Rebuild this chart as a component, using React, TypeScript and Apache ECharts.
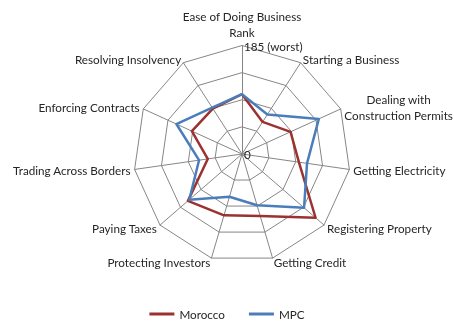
import React, { useEffect, useRef } from 'react';
import * as echarts from 'echarts';

const indicatorNames = [
  'Ease of Doing Business\nRank',
  'Starting a Business',
  'Dealing with\nConstruction Permits',
  'Getting Electricity',
  'Registering Property',
  'Getting Credit',
  'Protecting Investors',
  'Paying Taxes',
  'Trading Across Borders',
  'Enforcing Contracts',
  'Resolving Insolvency',
];
const morocco = [102, 65, 91, 98, 166, 110, 109, 122, 59, 94, 92];
const mpc = [102, 80, 144, 112, 140, 91, 76, 119, 74, 123, 94];
const seriesNames = ['Morocco', 'MPC'];
const maxRank = 185;
const maxLabel = '185 (worst)';
const minLabel = '0';

// Excel draws radar axes clockwise; ECharts goes counter-clockwise, so reorder.
const order = indicatorNames.map((_, i) => (i === 0 ? 0 : indicatorNames.length - i));
const reorder = (arr: number[]) => order.map((i) => arr[i]);

export default function App() {
  const ref = useRef<HTMLDivElement>(null);
  useEffect(() => {
    const chart = echarts.init(ref.current!, null, { renderer: 'svg' });
    const font = 'Lato, "Open Sans", sans-serif';
    const fs = 11.7;
    const indicator = order.map((i, k) => {
      const base: any = { name: indicatorNames[i], min: 0, max: maxRank };
      if (k === 0) {
        base.nameGap = 6;
        base.axisLabel = {
          show: true,
          showMinLabel: true,
          showMaxLabel: true,
          hideOverlap: false,
          margin: -2,
          align: 'left',
          color: '#262626',
          fontFamily: font,
          fontSize: fs,
          formatter: (v: number) => (v === maxRank ? maxLabel : v === 0 ? minLabel : ''),
        };
      }
      return base;
    });
    chart.setOption({
      animation: false,
      color: ['#9b3230', '#4a7ebb'],
      legend: {
        data: seriesNames,
        top: 303,
        left: 'center',
        icon: 'rect',
        itemWidth: 25,
        itemHeight: 3,
        itemGap: 24,
        textStyle: { color: '#262626', fontFamily: font, fontSize: fs },
      },
      radar: {
        center: [242, 154],
        radius: 108.5,
        splitNumber: 4,
        shape: 'polygon',
        nameGap: 4,
        indicator,
        axisName: {
          color: '#262626',
          fontFamily: font,
          fontSize: fs,
          formatter: (name: string) =>
            name
              .split('\n')
              .map((l) => '{c|' + l + '}')
              .join('\n'),
          rich: { c: { align: 'center', fontFamily: font, fontSize: fs, color: '#262626', lineHeight: 16 } },
        },
        axisLine: { lineStyle: { color: '#868686', width: 1 } },
        splitLine: { lineStyle: { color: '#868686', width: 1 } },
        splitArea: { show: false },
        axisTick: { show: false },
      },
      series: [
        {
          type: 'radar',
          symbol: 'none',
          data: [
            { name: seriesNames[0], value: reorder(morocco), lineStyle: { width: 2.5, color: '#9b3230' } },
            { name: seriesNames[1], value: reorder(mpc), lineStyle: { width: 2.5, color: '#4a7ebb' } },
          ],
        },
      ],
    });
    return () => chart.dispose();
  }, []);
  return <div ref={ref} style={{ position: 'fixed', left: 0, top: 0, width: 454, height: 321 }} />;
}
